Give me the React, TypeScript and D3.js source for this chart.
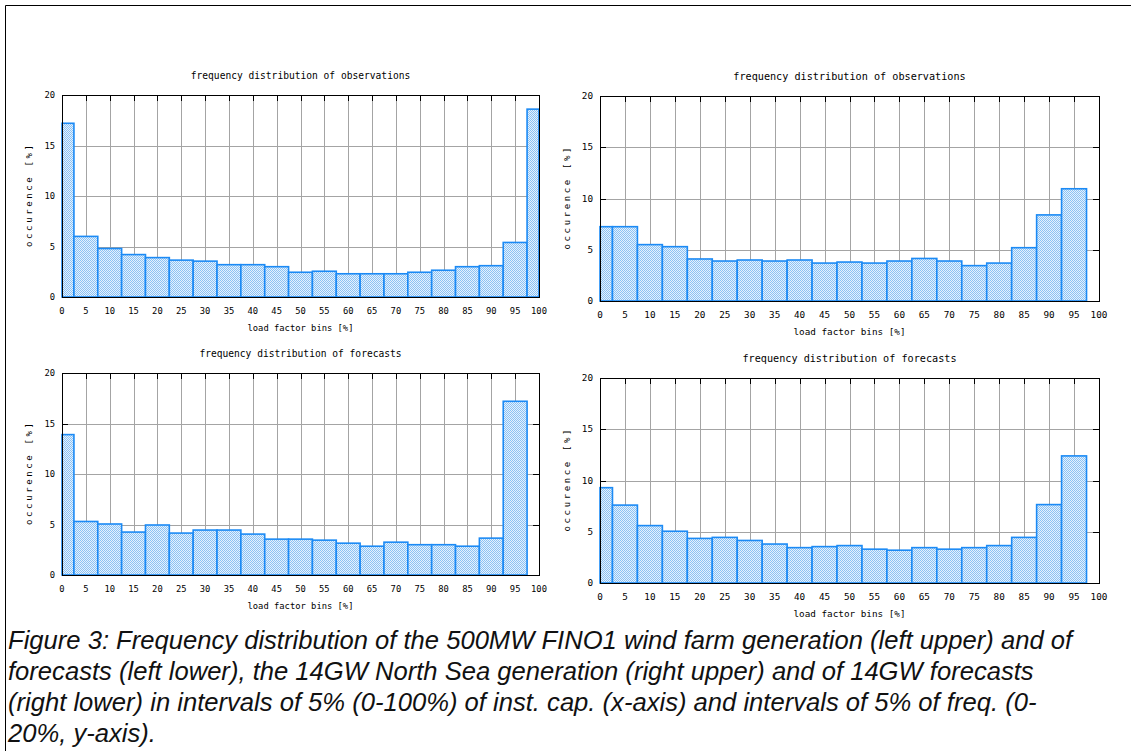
import React, { useEffect, useRef } from 'react'
import * as d3 from 'd3'

// bin centres in % of installed capacity
const binCenters = [0, 5, 10, 15, 20, 25, 30, 35, 40, 45, 50, 55, 60, 65, 70, 75, 80, 85, 90, 95, 100]
const xTicks = [0, 5, 10, 15, 20, 25, 30, 35, 40, 45, 50, 55, 60, 65, 70, 75, 80, 85, 90, 95, 100]
const yTicks = [0, 5, 10, 15, 20]

// occurence [%] per bin
const obsFino = [17.2, 6.0, 4.8, 4.2, 3.9, 3.65, 3.55, 3.2, 3.2, 3.0, 2.45, 2.55, 2.3, 2.3, 2.3, 2.45, 2.65, 3.0, 3.1, 5.4, 18.6]
const obsNorthSea = [7.25, 7.25, 5.5, 5.3, 4.1, 3.9, 4.0, 3.9, 4.0, 3.7, 3.8, 3.7, 3.9, 4.15, 3.9, 3.45, 3.7, 5.2, 8.4, 10.95]
const fcFino = [13.9, 5.3, 5.05, 4.25, 4.95, 4.15, 4.45, 4.45, 4.05, 3.55, 3.55, 3.45, 3.15, 2.85, 3.25, 3.0, 3.0, 2.85, 3.65, 17.2]
const fcNorthSea = [9.3, 7.6, 5.6, 5.05, 4.35, 4.45, 4.15, 3.8, 3.45, 3.55, 3.65, 3.3, 3.2, 3.45, 3.3, 3.45, 3.65, 4.45, 7.65, 12.4]

const titles = ['frequency distribution of observations', 'frequency distribution of forecasts']
const xLabel = 'load factor bins [%]'
const yLabel = 'occurence [%]'

const captionLines = [
    'Figure 3: Frequency distribution of the 500MW FINO1 wind farm generation (left upper) and of',
    'forecasts (left lower), the 14GW North Sea generation (right upper) and of 14GW forecasts',
    '(right lower) in intervals of 5% (0-100%) of inst. cap. (x-axis) and intervals of 5% of freq. (0-',
    '20%, y-axis).'
]

const W = 1131
const H = 751
const mono = '"DejaVu Sans Mono", monospace'

const panels = [
    { values: obsFino, title: titles[0], left: 62, right: 539, top: 95, bottom: 297, fs: 1 },
    { values: obsNorthSea, title: titles[0], left: 600, right: 1099, top: 96, bottom: 301, fs: 1.06 },
    { values: fcFino, title: titles[1], left: 62, right: 539, top: 373, bottom: 575, fs: 1 },
    { values: fcNorthSea, title: titles[1], left: 600, right: 1099, top: 378, bottom: 583, fs: 1.06 },
]

export default function App() {
    const ref = useRef<SVGSVGElement>(null)

    useEffect(() => {
        const svg = d3.select(ref.current)
        svg.selectAll('*').remove()

        const defs = svg.append('defs')
        const pat = defs.append('pattern')
            .attr('id', 'dots')
            .attr('width', 2)
            .attr('height', 2)
            .attr('patternUnits', 'userSpaceOnUse')
        pat.append('rect').attr('width', 2).attr('height', 2).attr('fill', '#e4f1fe')
        pat.append('rect').attr('x', 0).attr('y', 0).attr('width', 1).attr('height', 1).attr('fill', '#8cc2f3')
        pat.append('rect').attr('x', 1).attr('y', 1).attr('width', 1).attr('height', 1).attr('fill', '#8cc2f3')

        // outer frame of the figure
        svg.append('path')
            .attr('d', `M5.5,${H} L5.5,5.5 L${W},5.5`)
            .attr('fill', 'none')
            .attr('stroke', '#000')
            .attr('stroke-width', 1)

        panels.forEach(p => {
            const x = d3.scaleLinear().domain([0, 100]).range([p.left, p.right])
            const y = d3.scaleLinear().domain([0, 20]).range([p.bottom, p.top])
            const g = svg.append('g')
            const tickFs = 8.8 * p.fs
            const tickLen = 6

            // grid
            g.selectAll('.vgrid')
                .data(xTicks.slice(1, -1))
                .enter()
                .append('line')
                .attr('x1', d => Math.round(x(d)) + 0.5)
                .attr('x2', d => Math.round(x(d)) + 0.5)
                .attr('y1', p.top)
                .attr('y2', p.bottom)
                .attr('stroke', '#a4a4a4')
                .attr('stroke-width', 1)

            g.selectAll('.hgrid')
                .data(yTicks.slice(1, -1))
                .enter()
                .append('line')
                .attr('x1', p.left)
                .attr('x2', p.right)
                .attr('y1', d => Math.round(y(d)) + 0.5)
                .attr('y2', d => Math.round(y(d)) + 0.5)
                .attr('stroke', '#a4a4a4')
                .attr('stroke-width', 1)

            // inward ticks on all sides
            xTicks.forEach(t => {
                const xx = Math.round(x(t)) + 0.5
                g.append('line').attr('x1', xx).attr('x2', xx).attr('y1', p.top).attr('y2', p.top + tickLen).attr('stroke', '#000')
                g.append('line').attr('x1', xx).attr('x2', xx).attr('y1', p.bottom).attr('y2', p.bottom - tickLen).attr('stroke', '#000')
            })
            yTicks.forEach(t => {
                const yy = Math.round(y(t)) + 0.5
                g.append('line').attr('x1', p.left).attr('x2', p.left + tickLen).attr('y1', yy).attr('y2', yy).attr('stroke', '#000')
                g.append('line').attr('x1', p.right).attr('x2', p.right - tickLen).attr('y1', yy).attr('y2', yy).attr('stroke', '#000')
            })

            // bars: each bin spans centre +-2.5, clipped to 0..100
            const bars = p.values.map((v, i) => ({
                x0: Math.max(0, binCenters[i] - 2.5),
                x1: Math.min(100, binCenters[i] + 2.5),
                v: v
            }))

            g.selectAll('.bar')
                .data(bars)
                .enter()
                .append('rect')
                .attr('x', d => x(d.x0))
                .attr('y', d => y(d.v))
                .attr('width', d => x(d.x1) - x(d.x0))
                .attr('height', d => y(0) - y(d.v))
                .attr('fill', 'url(#dots)')
                .attr('stroke', '#1b8af5')
                .attr('stroke-width', 1.6)

            // frame
            g.append('rect')
                .attr('x', p.left + 0.5)
                .attr('y', p.top + 0.5)
                .attr('width', p.right - p.left)
                .attr('height', p.bottom - p.top)
                .attr('fill', 'none')
                .attr('stroke', '#000')
                .attr('stroke-width', 1)

            // tick labels
            g.selectAll('.xl')
                .data(xTicks)
                .enter()
                .append('text')
                .attr('x', d => x(d))
                .attr('y', p.bottom + 17)
                .attr('text-anchor', 'middle')
                .style('font-family', mono)
                .style('font-size', tickFs + 'px')
                .attr('fill', '#000')
                .text(d => d)

            g.selectAll('.yl')
                .data(yTicks)
                .enter()
                .append('text')
                .attr('x', p.left - 7)
                .attr('y', d => y(d) + 3)
                .attr('text-anchor', 'end')
                .style('font-family', mono)
                .style('font-size', tickFs + 'px')
                .attr('fill', '#000')
                .text(d => d)

            const cx = (p.left + p.right) / 2
            const cy = (p.top + p.bottom) / 2

            g.append('text')
                .attr('x', cx)
                .attr('y', p.top - 16)
                .attr('text-anchor', 'middle')
                .style('font-family', mono)
                .style('font-size', (9.6 * p.fs) + 'px')
                .attr('fill', '#000')
                .text(p.title)

            g.append('text')
                .attr('x', cx)
                .attr('y', p.bottom + 34)
                .attr('text-anchor', 'middle')
                .style('font-family', mono)
                .style('font-size', (8.8 * p.fs) + 'px')
                .attr('fill', '#000')
                .text(xLabel)

            g.append('text')
                .attr('transform', `translate(${p.left - 30},${cy}) rotate(-90)`)
                .attr('text-anchor', 'middle')
                .attr('textLength', 102)
                .attr('lengthAdjust', 'spacing')
                .style('font-family', mono)
                .style('font-size', '9px')
                .attr('fill', '#000')
                .text(yLabel)
        })

        svg.selectAll('.caption')
            .data(captionLines)
            .enter()
            .append('text')
            .attr('x', 8)
            .attr('y', (d, i) => 649 + i * 31)
            .style('font-family', '"Liberation Sans", Arial, sans-serif')
            .style('font-style', 'italic')
            .style('font-size', '25.6px')
            .attr('fill', '#111')
            .text(d => d)
    }, [])

    return (
        <svg
            ref={ref}
            width={W}
            height={H}
            style={{ position: 'absolute', left: 0, top: 0, background: '#fff' }}
        />
    )
}
